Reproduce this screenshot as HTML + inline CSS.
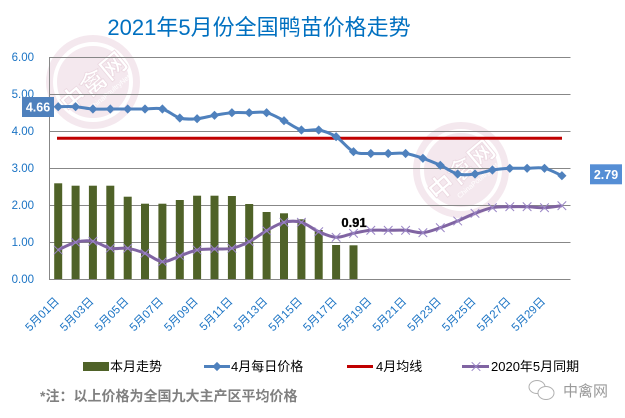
<!DOCTYPE html>
<html>
<head>
<meta charset="utf-8">
<style>
html,body{margin:0;padding:0;background:#fff;}
body{width:625px;height:418px;overflow:hidden;}
svg{display:block;}
text{font-family:"Liberation Sans","Noto Sans CJK SC","WenQuanYi Zen Hei",sans-serif;}
</style>
</head>
<body>
<svg id="chart" width="625" height="418" viewBox="0 0 625 418" xmlns="http://www.w3.org/2000/svg">
<defs>
  <path id="dm" d="M0,-4.6 L4.6,0 L0,4.6 L-4.6,0Z" fill="#4f81bd"/>
  <path id="xm" d="M-4.3,-4.3 L4.3,4.3 M-4.3,4.3 L4.3,-4.3" stroke="#9a86c6" stroke-width="1" fill="none"/>
</defs>
<rect width="625" height="418" fill="#fff"/>

<!-- watermarks -->
<g opacity="0.75">
  <circle cx="93" cy="82" r="47" fill="#f1e1e9"/>
  <circle cx="93" cy="82" r="38" fill="none" stroke="#ffffff" stroke-width="4"/>
  <text x="93" y="92" transform="rotate(-40 93 82)" text-anchor="middle" font-size="26" font-weight="bold" fill="#ffffff" stroke="#e6cdd8" stroke-width="0.8">中禽网</text>
  <text x="99" y="103" transform="rotate(-40 93 82)" text-anchor="middle" font-size="7" fill="#ffffff">ChinaPoultryNet</text>
</g>
<g opacity="0.75">
  <circle cx="461" cy="170" r="48" fill="#f1e1e9"/>
  <circle cx="461" cy="170" r="39" fill="none" stroke="#ffffff" stroke-width="4"/>
  <text x="461" y="180" transform="rotate(-40 461 170)" text-anchor="middle" font-size="26" font-weight="bold" fill="#ffffff" stroke="#e6cdd8" stroke-width="0.8">中禽网</text>
  <text x="467" y="191" transform="rotate(-40 461 170)" text-anchor="middle" font-size="7" fill="#ffffff">ChinaPoultryNet</text>
</g>

<!-- title -->
<text x="259" y="35" text-anchor="middle" font-size="22" fill="#0070c0">2021年5月份全国鸭苗价格走势</text>

<!-- gridlines -->
<g stroke="#878787" stroke-width="1">
  <line x1="49.5" y1="57.5" x2="570.5" y2="57.5"/>
  <line x1="49.5" y1="94.5" x2="570.5" y2="94.5"/>
  <line x1="49.5" y1="131.5" x2="570.5" y2="131.5"/>
  <line x1="49.5" y1="168.5" x2="570.5" y2="168.5"/>
  <line x1="49.5" y1="205.5" x2="570.5" y2="205.5"/>
  <line x1="49.5" y1="242.5" x2="570.5" y2="242.5"/>
  <line x1="49.5" y1="279.5" x2="570.5" y2="279.5"/>
  <line x1="49.5" y1="57" x2="49.5" y2="280"/>
</g>

<!-- y labels -->
<g font-size="11.5" fill="#1a73c4" text-anchor="end">
  <text x="34" y="61">6.00</text>
  <text x="34" y="98">5.00</text>
  <text x="34" y="135">4.00</text>
  <text x="34" y="172">3.00</text>
  <text x="34" y="209">2.00</text>
  <text x="34" y="246">1.00</text>
  <text x="34" y="283">0.00</text>
</g>

<!-- bars -->
<g fill="#4f6228">
  <rect x="54.2" y="183.3" width="8" height="95.7"/>
  <rect x="71.6" y="185.7" width="8" height="93.3"/>
  <rect x="88.9" y="185.7" width="8" height="93.3"/>
  <rect x="106.3" y="185.7" width="8" height="93.3"/>
  <rect x="123.7" y="196.7" width="8" height="82.3"/>
  <rect x="141" y="203.7" width="8" height="75.3"/>
  <rect x="158.4" y="203.7" width="8" height="75.3"/>
  <rect x="175.8" y="200" width="8" height="79"/>
  <rect x="193.1" y="195.7" width="8" height="83.3"/>
  <rect x="210.5" y="195.7" width="8" height="83.3"/>
  <rect x="227.9" y="196" width="8" height="83"/>
  <rect x="245.2" y="204" width="8" height="75"/>
  <rect x="262.6" y="212" width="8" height="67"/>
  <rect x="280" y="213.3" width="8" height="65.7"/>
  <rect x="297.4" y="219.3" width="8" height="59.7"/>
  <rect x="314.7" y="230" width="8" height="49"/>
  <rect x="332.1" y="245" width="8" height="34"/>
  <rect x="349.5" y="245.3" width="8" height="33.7"/>
</g>

<!-- red average line -->
<line x1="57" y1="138.3" x2="562" y2="138.3" stroke="#c00000" stroke-width="3"/>

<!-- blue line -->
<polyline class="smooth" fill="none" stroke="#4f81bd" stroke-width="3" stroke-linejoin="round"
 points="58.2,106.7 75.6,106.7 92.9,109 110.3,109 127.7,109 145,109 162.4,109 179.8,118 197.1,118.7 214.5,115.3 231.9,112.7 249.2,112.7 266.6,112.7 284,120.7 301.4,130 318.7,130 336.1,136.7 353.5,151.7 370.8,153.5 388.2,153.5 405.6,153.5 422.9,158.3 440.3,165.3 457.7,174 475,174 492.4,170 509.8,168.3 527.1,168.3 544.5,168.3 561.9,175.7"/>
<g>
  <use href="#dm" x="58.2" y="106.7"/><use href="#dm" x="75.6" y="106.7"/><use href="#dm" x="92.9" y="109"/>
  <use href="#dm" x="110.3" y="109"/><use href="#dm" x="127.7" y="109"/><use href="#dm" x="145" y="109"/>
  <use href="#dm" x="162.4" y="109"/><use href="#dm" x="179.8" y="118"/><use href="#dm" x="197.1" y="118.7"/>
  <use href="#dm" x="214.5" y="115.3"/><use href="#dm" x="231.9" y="112.7"/><use href="#dm" x="249.2" y="112.7"/>
  <use href="#dm" x="266.6" y="112.7"/><use href="#dm" x="284" y="120.7"/><use href="#dm" x="301.4" y="130"/>
  <use href="#dm" x="318.7" y="130"/><use href="#dm" x="336.1" y="136.7"/><use href="#dm" x="353.5" y="151.7"/>
  <use href="#dm" x="370.8" y="153.5"/><use href="#dm" x="388.2" y="153.5"/><use href="#dm" x="405.6" y="153.5"/>
  <use href="#dm" x="422.9" y="158.3"/><use href="#dm" x="440.3" y="165.3"/><use href="#dm" x="457.7" y="174"/>
  <use href="#dm" x="475" y="174"/><use href="#dm" x="492.4" y="170"/><use href="#dm" x="509.8" y="168.3"/>
  <use href="#dm" x="527.1" y="168.3"/><use href="#dm" x="544.5" y="168.3"/><use href="#dm" x="561.9" y="175.7"/>
</g>

<!-- purple line -->
<polyline class="smooth" fill="none" stroke="#8064a2" stroke-width="3" stroke-linejoin="round"
 points="58.2,250 75.6,242.3 92.9,241.3 110.3,248.3 127.7,248.3 145,253.3 162.4,261.7 179.8,256 197.1,250 214.5,249 231.9,248.3 249.2,241.7 266.6,230.7 284,222.3 301.4,222.3 318.7,231.7 336.1,237.3 353.5,233.3 370.8,230.3 388.2,230.3 405.6,230.3 422.9,232.7 440.3,227.7 457.7,221 475,213.3 492.4,207.7 509.8,206.7 527.1,206.7 544.5,207.7 561.9,205.7"/>
<g>
  <use href="#xm" x="58.2" y="250"/><use href="#xm" x="75.6" y="242.3"/><use href="#xm" x="92.9" y="241.3"/>
  <use href="#xm" x="110.3" y="248.3"/><use href="#xm" x="127.7" y="248.3"/><use href="#xm" x="145" y="253.3"/>
  <use href="#xm" x="162.4" y="261.7"/><use href="#xm" x="179.8" y="256"/><use href="#xm" x="197.1" y="250"/>
  <use href="#xm" x="214.5" y="249"/><use href="#xm" x="231.9" y="248.3"/><use href="#xm" x="249.2" y="241.7"/>
  <use href="#xm" x="266.6" y="230.7"/><use href="#xm" x="284" y="222.3"/><use href="#xm" x="301.4" y="222.3"/>
  <use href="#xm" x="318.7" y="231.7"/><use href="#xm" x="336.1" y="237.3"/><use href="#xm" x="353.5" y="233.3"/>
  <use href="#xm" x="370.8" y="230.3"/><use href="#xm" x="388.2" y="230.3"/><use href="#xm" x="405.6" y="230.3"/>
  <use href="#xm" x="422.9" y="232.7"/><use href="#xm" x="440.3" y="227.7"/><use href="#xm" x="457.7" y="221"/>
  <use href="#xm" x="475" y="213.3"/><use href="#xm" x="492.4" y="207.7"/><use href="#xm" x="509.8" y="206.7"/>
  <use href="#xm" x="527.1" y="206.7"/><use href="#xm" x="544.5" y="207.7"/><use href="#xm" x="561.9" y="205.7"/>
</g>

<!-- data labels -->
<rect x="22" y="97" width="32" height="20" fill="#4f81bd"/>
<text x="38" y="111.5" text-anchor="middle" font-size="12.5" font-weight="bold" fill="#ffffff">4.66</text>
<rect x="590" y="164.3" width="32" height="20" fill="#558ed5"/>
<text x="606" y="179" text-anchor="middle" font-size="12.5" font-weight="bold" fill="#ffffff">2.79</text>
<text x="354" y="227" text-anchor="middle" font-size="13" font-weight="bold" fill="#000000" stroke="#000" stroke-width="0.3">0.91</text>

<!-- x labels -->
<g font-size="11.5" fill="#1a73c4" text-anchor="end">
  <text transform="translate(59.7,302) rotate(-45)">5月01日</text>
  <text transform="translate(94.4,302) rotate(-45)">5月03日</text>
  <text transform="translate(129.2,302) rotate(-45)">5月05日</text>
  <text transform="translate(163.9,302) rotate(-45)">5月07日</text>
  <text transform="translate(198.6,302) rotate(-45)">5月09日</text>
  <text transform="translate(233.4,302) rotate(-45)">5月11日</text>
  <text transform="translate(268.1,302) rotate(-45)">5月13日</text>
  <text transform="translate(302.9,302) rotate(-45)">5月15日</text>
  <text transform="translate(337.6,302) rotate(-45)">5月17日</text>
  <text transform="translate(372.3,302) rotate(-45)">5月19日</text>
  <text transform="translate(407.1,302) rotate(-45)">5月21日</text>
  <text transform="translate(441.8,302) rotate(-45)">5月23日</text>
  <text transform="translate(476.5,302) rotate(-45)">5月25日</text>
  <text transform="translate(511.3,302) rotate(-45)">5月27日</text>
  <text transform="translate(546,302) rotate(-45)">5月29日</text>
</g>

<!-- legend -->
<rect x="83" y="362" width="26" height="9" fill="#4f6228"/>
<text x="110" y="371" font-size="13" fill="#000">本月走势</text>
<line x1="204" y1="366.5" x2="230" y2="366.5" stroke="#4f81bd" stroke-width="3"/>
<use href="#dm" x="217" y="366.5"/>
<text x="231" y="371" font-size="13" fill="#000">4月每日价格</text>
<line x1="347" y1="366.5" x2="373" y2="366.5" stroke="#c00000" stroke-width="3"/>
<text x="376" y="371" font-size="13" fill="#000">4月均线</text>
<line x1="462" y1="366.5" x2="489" y2="366.5" stroke="#8064a2" stroke-width="3"/>
<use href="#xm" x="476" y="366.5"/>
<text x="491" y="371" font-size="13" fill="#000">2020年5月同期</text>

<!-- footer -->
<text x="40" y="401" font-size="14" font-weight="bold" fill="#808080">*注：以上价格为全国九大主产区平均价格</text>

<!-- bottom-right brand -->
<g fill="none" stroke="#b0b0b0" stroke-width="1">
  <ellipse cx="537" cy="387" rx="8" ry="6.5"/>
  <ellipse cx="546" cy="393" rx="8" ry="6.5" fill="#fff"/>
</g>
<text x="563" y="396" font-size="15" fill="#9a9a9a">中禽网</text>
</svg>
<script>
(function(){
  var ns="http://www.w3.org/2000/svg";
  var pls=document.querySelectorAll("polyline.smooth");
  for(var k=0;k<pls.length;k++){
    var pl=pls[k];
    var pts=pl.getAttribute("points").trim().split(/\s+/).map(function(s){var a=s.split(",");return [parseFloat(a[0]),parseFloat(a[1])];});
    var d="M"+pts[0][0]+","+pts[0][1];
    for(var i=0;i<pts.length-1;i++){
      var p0=pts[i>0?i-1:i],p1=pts[i],p2=pts[i+1],p3=pts[i+2<pts.length?i+2:i+1];
      var c1x=p1[0]+(p2[0]-p0[0])/6,c1y=p1[1]+(p2[1]-p0[1])/6;
      var c2x=p2[0]-(p3[0]-p1[0])/6,c2y=p2[1]-(p3[1]-p1[1])/6;
      d+=" C"+c1x.toFixed(2)+","+c1y.toFixed(2)+" "+c2x.toFixed(2)+","+c2y.toFixed(2)+" "+p2[0]+","+p2[1];
    }
    var path=document.createElementNS(ns,"path");
    path.setAttribute("d",d);
    path.setAttribute("fill","none");
    path.setAttribute("stroke",pl.getAttribute("stroke"));
    path.setAttribute("stroke-width",pl.getAttribute("stroke-width"));
    path.setAttribute("stroke-linejoin","round");
    pl.parentNode.replaceChild(path,pl);
  }
})();
</script>
</body>
</html>
